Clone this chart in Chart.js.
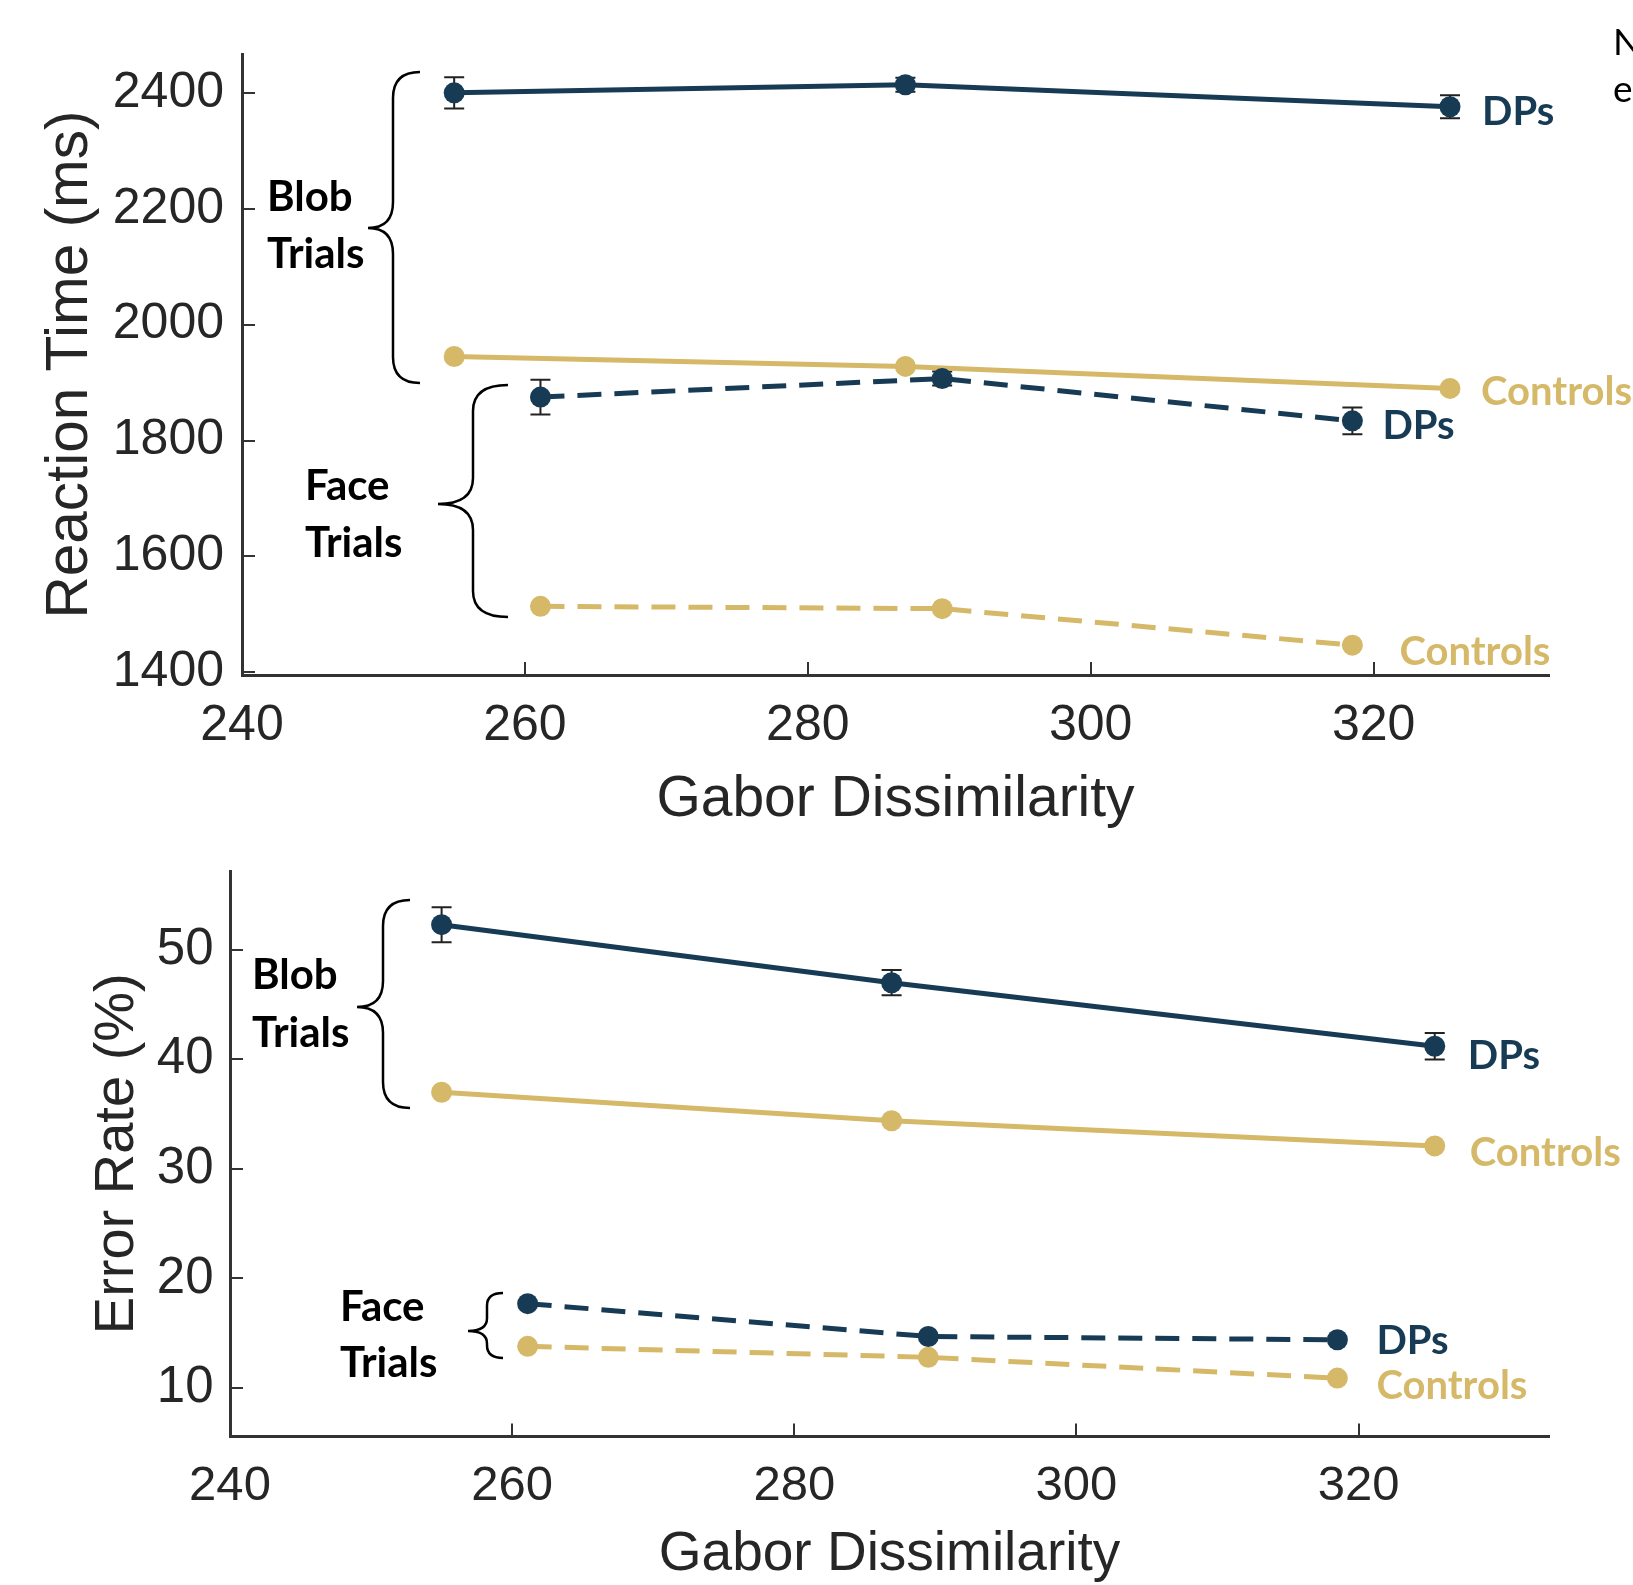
<!DOCTYPE html>
<html lang="en">
<head>
    <meta charset="UTF-8">
    <title>Gabor Dissimilarity: Reaction Time and Error Rate</title>
    <script src="https://cdn.jsdelivr.net/npm/chart.js"></script>
    <style>
        body {
            margin: 0;
            background: #fff;
            width: 1633px;
            height: 1585px;
            overflow: hidden;
            position: relative;
        }
        canvas { position: absolute; left: 0; }
        #rtChart { top: 0; }
        #erChart { top: 850px; }
    </style>
</head>
<body>
    <canvas id="rtChart" width="1633" height="850"></canvas>
    <canvas id="erChart" width="1633" height="735"></canvas>

    <script>
        // Gabor dissimilarity of the three conditions (blob and face trials)
        const blobX = [255.0, 286.9, 325.4];
        const faceX = [261.1, 289.5, 318.5];
        const xTicks = [240, 260, 280, 300, 320];

        // Reaction time (ms)
        const rtBlobDPs = [2400, 2414, 2376];
        const rtBlobDPsErr = [27, 12, 20];
        const rtBlobControls = [1945, 1928, 1890];
        const rtFaceDPs = [1875, 1907, 1834];
        const rtFaceDPsErr = [30, 12, 23];
        const rtFaceControls = [1514, 1510, 1447];
        const rtTicks = [1400, 1600, 1800, 2000, 2200, 2400];

        // Error rate (%)
        const erBlobDPs = [52.3, 47.0, 41.2];
        const erBlobDPsErr = [1.6, 1.15, 1.2];
        const erBlobControls = [37.0, 34.4, 32.1];
        const erFaceDPs = [17.7, 14.7, 14.4];
        const erFaceControls = [13.8, 12.8, 10.9];
        const erTicks = [10, 20, 30, 40, 50];

        const NAVY = '#173b55';
        const GOLD = '#d5b968';
        const AXIS = '#333333';
        const TEXT = '#262626';
        const SANS = "'Liberation Sans', Arial, sans-serif";

        function series(xs, ys, color, dashed, label, dx, dy, err) {
            return {
                label: label,
                data: xs.map((x, i) => ({ x: x, y: ys[i] })),
                showLine: true,
                borderColor: color,
                backgroundColor: color,
                borderWidth: 5,
                borderDash: dashed ? [24, 13] : [],
                pointRadius: 10.5,
                pointHoverRadius: 10.5,
                pointBorderWidth: 0,
                err: err || null,
                labelDx: dx,
                labelDy: dy
            };
        }

        // vertical error bars with caps, behind the markers
        const errorBars = {
            id: 'errorBars',
            beforeDatasetsDraw(chart) {
                const ctx = chart.ctx, y = chart.scales.y;
                chart.data.datasets.forEach((ds, i) => {
                    if (!ds.err) return;
                    chart.getDatasetMeta(i).data.forEach((pt, j) => {
                        const v = ds.data[j].y, e = ds.err[j];
                        const top = y.getPixelForValue(v + e);
                        const bot = y.getPixelForValue(v - e);
                        ctx.save();
                        ctx.strokeStyle = '#222';
                        ctx.lineWidth = 2;
                        ctx.beginPath();
                        ctx.moveTo(pt.x, top); ctx.lineTo(pt.x, bot);
                        ctx.moveTo(pt.x - 10, top); ctx.lineTo(pt.x + 10, top);
                        ctx.moveTo(pt.x - 10, bot); ctx.lineTo(pt.x + 10, bot);
                        ctx.stroke();
                        ctx.restore();
                    });
                });
            }
        };

        // "DPs" / "Controls" next to the last point of every line
        const endLabels = {
            id: 'endLabels',
            afterDatasetsDraw(chart) {
                const ctx = chart.ctx;
                ctx.save();
                ctx.font = "bold 40px Lato";
                ctx.textBaseline = 'alphabetic';
                chart.data.datasets.forEach((ds, i) => {
                    const pts = chart.getDatasetMeta(i).data;
                    const last = pts[pts.length - 1];
                    ctx.fillStyle = ds.borderColor;
                    ctx.fillText(ds.label, last.x + ds.labelDx, last.y + ds.labelDy);
                });
                ctx.restore();
            }
        };

        function drawBrace(ctx, b) {
            const r = Math.min(26, (b.yTip - b.yTop) / 3);
            ctx.beginPath();
            ctx.moveTo(b.xEnd, b.yTop);
            ctx.quadraticCurveTo(b.xMid, b.yTop, b.xMid, b.yTop + r);
            ctx.lineTo(b.xMid, b.yTip - r);
            ctx.quadraticCurveTo(b.xMid, b.yTip, b.xTip, b.yTip);
            ctx.quadraticCurveTo(b.xMid, b.yTip, b.xMid, b.yTip + r);
            ctx.lineTo(b.xMid, b.yBot - r);
            ctx.quadraticCurveTo(b.xMid, b.yBot, b.xEnd, b.yBot);
            ctx.stroke();
        }

        function notesPlugin(notes) {
            return {
                id: 'notes',
                afterDraw(chart) {
                    const ctx = chart.ctx;
                    ctx.save();
                    ctx.strokeStyle = '#000';
                    ctx.lineWidth = 2.5;
                    notes.braces.forEach(b => drawBrace(ctx, b));
                    ctx.fillStyle = '#000';
                    ctx.textBaseline = 'alphabetic';
                    notes.texts.forEach(t => {
                        ctx.font = t.font || "bold 42px Lato";
                        ctx.fillText(t.text, t.x, t.y);
                    });
                    ctx.restore();
                }
            };
        }

        function makeChart(id, datasets, o, notes) {
            const tickFont = size => ({ family: SANS, size: size, lineHeight: 1 });
            new Chart(document.getElementById(id), {
                type: 'scatter',
                data: { datasets: datasets },
                options: {
                    responsive: false,
                    animation: false,
                    devicePixelRatio: 1,
                    layout: { padding: { left: 0, top: o.top, right: 84, bottom: 0 } },
                    plugins: { legend: { display: false }, tooltip: { enabled: false } },
                    scales: {
                        x: {
                            type: 'linear',
                            min: 240,
                            max: o.xMax,
                            afterBuildTicks: s => { s.ticks = xTicks.map(v => ({ value: v })); },
                            afterFit: s => { s.height = o.xHeight; s.paddingLeft = 0; s.paddingRight = 0; },
                            grid: { drawOnChartArea: false, drawTicks: true, tickLength: -13, color: AXIS, lineWidth: 2 },
                            border: { display: true, color: AXIS, width: 3 },
                            ticks: { color: TEXT, font: tickFont(o.xTickSize), padding: o.xTickPad, maxRotation: 0, callback: v => String(v) },
                            title: {
                                display: true, text: 'Gabor Dissimilarity', color: TEXT,
                                font: tickFont(o.xTitleSize), padding: { top: 0, bottom: o.xTitlePad }
                            }
                        },
                        y: {
                            type: 'linear',
                            min: o.yMin,
                            max: o.yMax,
                            afterBuildTicks: s => { s.ticks = o.yTicks.map(v => ({ value: v })); },
                            afterFit: s => { s.width = o.yWidth; s.paddingTop = 0; s.paddingBottom = 0; },
                            grid: { drawOnChartArea: false, drawTicks: true, tickLength: -13, color: AXIS, lineWidth: 2 },
                            border: { display: true, color: AXIS, width: 3 },
                            ticks: { color: TEXT, font: tickFont(o.yTickSize), padding: o.yTickPad, callback: v => String(v) },
                            title: {
                                display: true, text: o.yTitle, color: TEXT,
                                font: tickFont(o.yTitleSize), padding: { top: o.yTitlePad, bottom: 0 }
                            }
                        }
                    }
                },
                plugins: [errorBars, endLabels, notesPlugin(notes)]
            });
        }

        // top panel: reaction time
        makeChart('rtChart', [
            series(faceX, rtFaceDPs, NAVY, true, 'DPs', 30, 18.5, rtFaceDPsErr),
            series(blobX, rtBlobDPs, NAVY, false, 'DPs', 32, 18.5, rtBlobDPsErr),
            series(blobX, rtBlobControls, GOLD, false, 'Controls', 31, 16.5),
            series(faceX, rtFaceControls, GOLD, true, 'Controls', 47, 19.5)
        ], {
            top: 54, xMax: 332.4, xHeight: 175, xTickSize: 50, xTickPad: 39, xTitleSize: 57, xTitlePad: 21.5,
            yMin: 1395.5, yMax: 2467, yTicks: rtTicks, yWidth: 242, yTickSize: 50, yTickPad: 31,
            yTitle: 'Reaction Time (ms)', yTitleSize: 58.5, yTitlePad: 42
        }, {
            braces: [
                { xEnd: 420, xMid: 393, xTip: 368, yTop: 72, yTip: 228, yBot: 383 },
                { xEnd: 508, xMid: 473, xTip: 438, yTop: 385, yTip: 504, yBot: 617 }
            ],
            texts: [
                { text: 'Blob', x: 267, y: 211 },
                { text: 'Trials', x: 267, y: 268 },
                { text: 'Face', x: 305, y: 500 },
                { text: 'Trials', x: 305, y: 557 },
                { text: 'N', x: 1613, y: 55, font: '37px Lato' },
                { text: 'e', x: 1613, y: 102, font: '37px Lato' }
            ]
        });

        // bottom panel: error rate
        makeChart('erChart', [
            series(faceX, erFaceDPs, NAVY, true, 'DPs', 39, 14.5),
            series(blobX, erBlobDPs, NAVY, false, 'DPs', 33, 22.5, erBlobDPsErr),
            series(blobX, erBlobControls, GOLD, false, 'Controls', 35, 20.5),
            series(faceX, erFaceControls, GOLD, true, 'Controls', 39, 20.5)
        ], {
            top: 21, xMax: 333.5, xHeight: 148.5, xTickSize: 49, xTickPad: 38, xTitleSize: 55, xTitlePad: 2.5,
            yMin: 5.57, yMax: 57.2, yTicks: erTicks, yWidth: 230, yTickSize: 51, yTickPad: 29.5,
            yTitle: 'Error Rate (%)', yTitleSize: 56, yTitlePad: 90
        }, {
            braces: [
                { xEnd: 410, xMid: 383, xTip: 357, yTop: 50, yTip: 157, yBot: 258 },
                { xEnd: 503, xMid: 487, xTip: 468, yTop: 443, yTip: 481, yBot: 508 }
            ],
            texts: [
                { text: 'Blob', x: 252, y: 139 },
                { text: 'Trials', x: 252, y: 197 },
                { text: 'Face', x: 340, y: 471 },
                { text: 'Trials', x: 340, y: 527 }
            ]
        });
    </script>
</body>
</html>
